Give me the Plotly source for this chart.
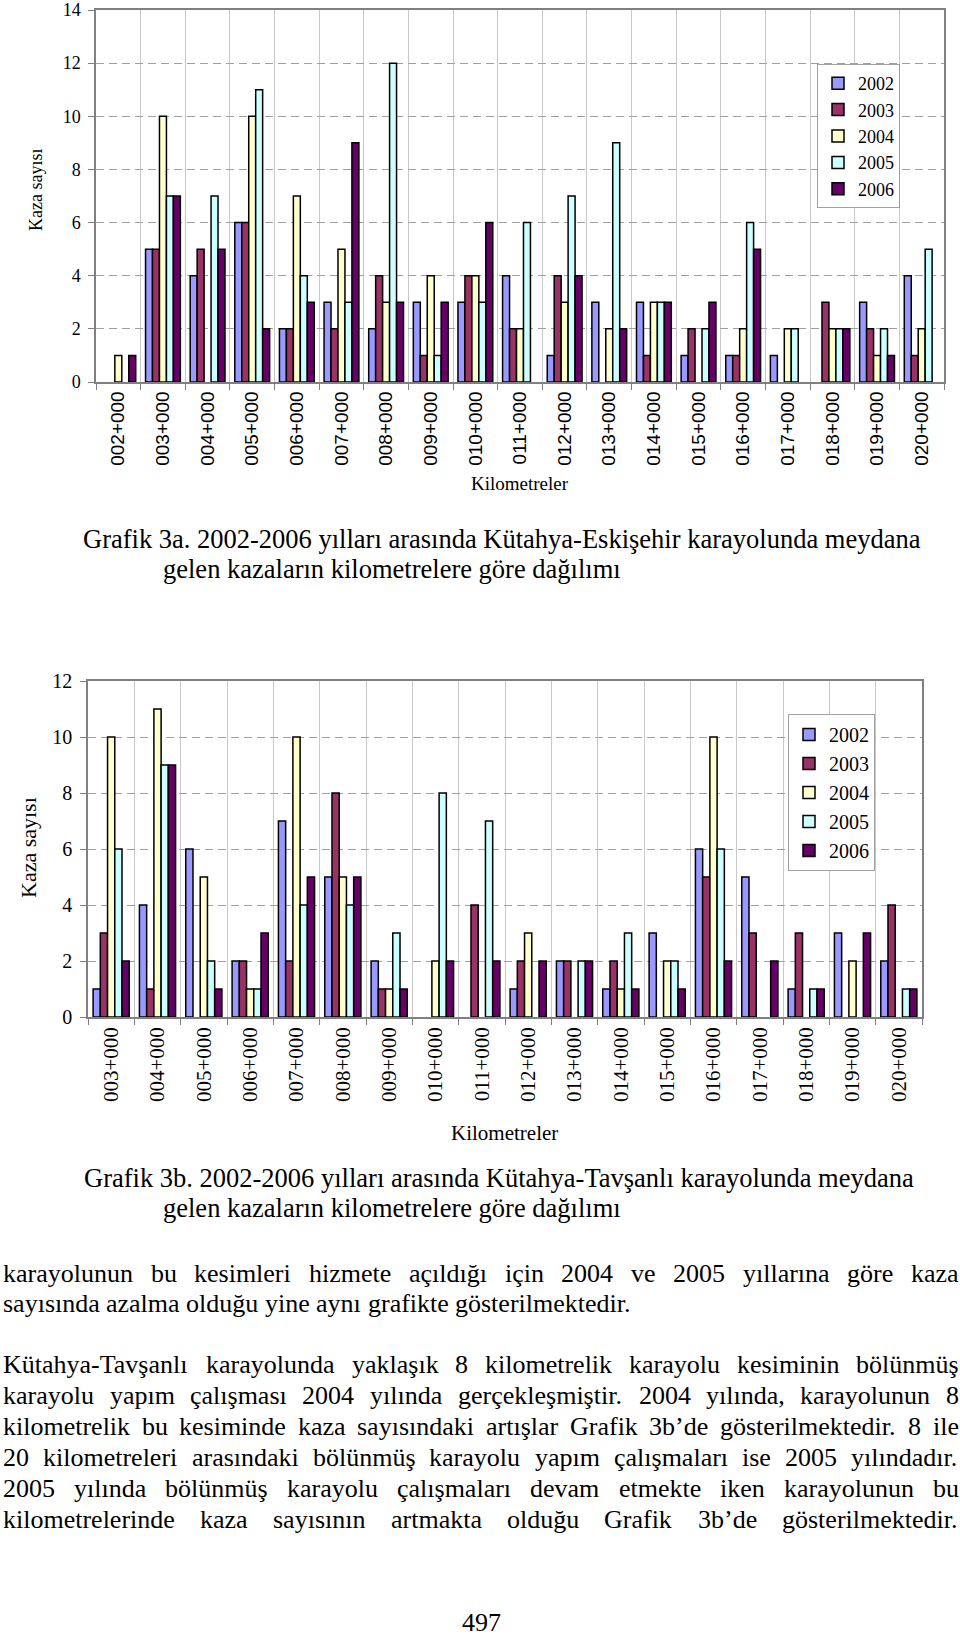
import plotly.graph_objects as go

W, H = 960, 1639

years = ["2002", "2003", "2004", "2005", "2006"]
colors = ["#9999FF", "#993366", "#FFFFCC", "#CCFFFF", "#660066"]

# ---- Grafik 3a: Kütahya-Eskişehir ----
km_a = ["002+000", "003+000", "004+000", "005+000", "006+000", "007+000", "008+000",
        "009+000", "010+000", "011+000", "012+000", "013+000", "014+000", "015+000",
        "016+000", "017+000", "018+000", "019+000", "020+000"]
a_2002 = [0, 5, 4, 6, 2, 3, 2, 3, 3, 4, 1, 3, 3, 1, 1, 1, 0, 3, 4]
a_2003 = [0, 5, 5, 6, 2, 2, 4, 1, 4, 2, 4, 0, 1, 2, 1, 0, 3, 2, 1]
a_2004 = [1, 10, 0, 10, 7, 5, 3, 4, 4, 2, 3, 2, 3, 0, 2, 2, 2, 1, 2]
a_2005 = [0, 7, 7, 11, 4, 3, 12, 1, 3, 6, 7, 9, 3, 2, 6, 2, 2, 2, 5]
a_2006 = [1, 7, 5, 2, 3, 9, 3, 3, 6, 0, 4, 2, 3, 3, 5, 0, 2, 1, 0]

# ---- Grafik 3b: Kütahya-Tavşanlı ----
km_b = ["003+000", "004+000", "005+000", "006+000", "007+000", "008+000", "009+000",
        "010+000", "011+000", "012+000", "013+000", "014+000", "015+000", "016+000",
        "017+000", "018+000", "019+000", "020+000"]
b_2002 = [1, 4, 6, 2, 7, 5, 2, 0, 0, 1, 2, 1, 3, 6, 5, 1, 3, 2]
b_2003 = [3, 1, 0, 2, 2, 8, 1, 0, 4, 2, 2, 2, 0, 5, 3, 3, 0, 4]
b_2004 = [10, 11, 5, 1, 10, 5, 1, 2, 0, 3, 0, 1, 2, 10, 0, 0, 2, 0]
b_2005 = [6, 9, 2, 1, 4, 4, 3, 8, 7, 0, 2, 3, 2, 6, 0, 1, 0, 1]
b_2006 = [2, 9, 1, 3, 5, 5, 1, 2, 2, 2, 2, 1, 1, 2, 2, 1, 3, 1]

y_ticks_a = [0, 2, 4, 6, 8, 10, 12, 14]
y_ticks_b = [0, 2, 4, 6, 8, 10, 12]

caption_a = ["Grafik 3a. 2002-2006 yılları arasında Kütahya-Eskişehir karayolunda meydana",
             "gelen kazaların kilometrelere göre dağılımı"]
caption_b = ["Grafik 3b. 2002-2006 yılları arasında Kütahya-Tavşanlı karayolunda meydana",
             "gelen kazaların kilometrelere göre dağılımı"]

# (text, justified)
para_1 = [("karayolunun bu kesimleri hizmete açıldığı için 2004 ve 2005 yıllarına göre kaza", True),
          ("sayısında azalma olduğu yine aynı grafikte gösterilmektedir.", False)]
para_2 = [("Kütahya-Tavşanlı karayolunda yaklaşık 8 kilometrelik karayolu kesiminin bölünmüş", True),
          ("karayolu yapım çalışması 2004 yılında gerçekleşmiştir. 2004 yılında, karayolunun 8", True),
          ("kilometrelik bu kesiminde kaza sayısındaki artışlar Grafik 3b’de gösterilmektedir. 8 ile", True),
          ("20 kilometreleri arasındaki bölünmüş karayolu yapım çalışmaları ise 2005 yılındadır.", True),
          ("2005 yılında bölünmüş karayolu çalışmaları devam etmekte iken karayolunun bu", True),
          ("kilometrelerinde kaza sayısının artmakta olduğu Grafik 3b’de gösterilmektedir.", True)]
page_no = "497"

SERIF = "Liberation Serif, Times New Roman, serif"
SANS = "Liberation Sans, Arial, sans-serif"


def px(x):
    return x / W


def py(y):
    return 1 - y / H


fig = go.Figure()

series_a = [a_2002, a_2003, a_2004, a_2005, a_2006]
series_b = [b_2002, b_2003, b_2004, b_2005, b_2006]

for yr, col, vals in zip(years, colors, series_a):
    fig.add_trace(go.Bar(
        x=km_a, y=[v if v else None for v in vals], name=yr,
        marker=dict(color=col, line=dict(color="black", width=1.5)),
        xaxis="x", yaxis="y", legend="legend"))

for yr, col, vals in zip(years, colors, series_b):
    fig.add_trace(go.Bar(
        x=km_b, y=[v if v else None for v in vals], name=yr,
        marker=dict(color=col, line=dict(color="black", width=1.5)),
        xaxis="x2", yaxis="y2", legend="legend2"))

common_x = dict(type="category", tickson="boundaries", showgrid=True, gridcolor="#c8c8c8",
                gridwidth=1, showline=True, linecolor="#808080", linewidth=1.5, mirror=True,
                ticks="outside", ticklen=6, tickcolor="#808080", tickangle=-90,
                automargin=False, fixedrange=True)
common_y = dict(showgrid=True, gridcolor="#a0a0a0", griddash="8px,5px", gridwidth=1,
                showline=True, linecolor="#808080", linewidth=1.5, mirror=True,
                ticks="outside", ticklen=6, tickcolor="#808080", zeroline=False,
                automargin=False, fixedrange=True)

fig.update_layout(
    width=W, height=H,
    margin=dict(l=0, r=0, t=0, b=0, pad=0),
    paper_bgcolor="white", plot_bgcolor="white",
    barmode="group", bargap=0.22, bargroupgap=0,
    xaxis=dict(common_x, domain=[px(96), px(944)], anchor="y",
               tickfont=dict(family=SANS, size=19, color="black")),
    yaxis=dict(common_y, domain=[py(382), py(10)], anchor="x", range=[0, 14],
               tickvals=y_ticks_a, tickfont=dict(family=SERIF, size=18, color="black"),
               ticklabelstandoff=4),
    xaxis2=dict(common_x, domain=[px(88), px(922)], anchor="y2",
                tickfont=dict(family=SERIF, size=21, color="black")),
    yaxis2=dict(common_y, domain=[py(1017), py(681)], anchor="x2", range=[0, 12],
                tickvals=y_ticks_b, tickfont=dict(family=SERIF, size=20, color="black"),
                ticklabelstandoff=4),
    legend=dict(x=px(817), y=py(64), xanchor="left", yanchor="top",
                bgcolor="white", bordercolor="#a0a0a0", borderwidth=1,
                font=dict(family=SERIF, size=18, color="black"), itemwidth=30),
    legend2=dict(x=px(788), y=py(714), xanchor="left", yanchor="top",
                 bgcolor="white", bordercolor="#a0a0a0", borderwidth=1,
                 font=dict(family=SERIF, size=20, color="black"), itemwidth=30),
    showlegend=True,
)

# Times/Liberation Serif advance widths (per 1000 em)
WID = {" ": 250, "+": 564, ",": 250, "-": 333, ".": 250, "’": 333, "'": 180}
for d in "0123456789":
    WID[d] = 500
WID.update(dict(zip("ABCDEFGHIJKLMNOPQRSTUVWXYZ",
                    [722, 667, 667, 722, 611, 556, 722, 722, 333, 389, 722, 611, 889,
                     722, 722, 556, 722, 667, 556, 611, 722, 722, 944, 722, 722, 611])))
WID.update(dict(zip("abcdefghijklmnopqrstuvwxyz",
                    [444, 500, 444, 500, 444, 333, 500, 500, 278, 278, 500, 278, 778,
                     500, 500, 500, 500, 333, 389, 278, 500, 500, 722, 500, 500, 444])))
WID.update({"ç": 444, "ğ": 500, "ı": 278, "ö": 500, "ş": 389, "ü": 500,
            "Ş": 556, "Ü": 722, "Ö": 722, "Ç": 667, "İ": 333})


def text_w(s, size):
    return sum(WID.get(c, 500) for c in s) * size / 1000.0


annots = []


def add_text(text, x, baseline, size, xanchor="left", angle=0, family=SERIF):
    annots.append(dict(text=text, x=px(x), y=py(baseline - 0.34 * size), xref="paper",
                       yref="paper", xanchor=xanchor, yanchor="middle", showarrow=False,
                       borderpad=0, textangle=angle,
                       font=dict(family=family, size=size, color="black")))


def add_line(text, baseline, size, justify, left=2, right=958):
    words = text.split(" ")
    ws = [text_w(w, size) for w in words]
    if justify and len(words) > 1:
        gap = (right - left - sum(ws)) / (len(words) - 1)
    else:
        gap = WID[" "] * size / 1000.0
    x = left
    for w, wd in zip(words, ws):
        add_text(w, x, baseline, size)
        x += wd + gap


# axis titles
annots.append(dict(text="Kaza sayısı", x=px(36), y=py(190), xref="paper", yref="paper",
                   xanchor="center", yanchor="middle", textangle=-90, showarrow=False,
                   font=dict(family=SERIF, size=18, color="black")))
annots.append(dict(text="Kilometreler", x=px(520), y=py(483), xref="paper", yref="paper",
                   xanchor="center", yanchor="middle", showarrow=False,
                   font=dict(family=SERIF, size=19, color="black")))
annots.append(dict(text="Kaza sayısı", x=px(28), y=py(848), xref="paper", yref="paper",
                   xanchor="center", yanchor="middle", textangle=-90, showarrow=False,
                   font=dict(family=SERIF, size=22, color="black")))
annots.append(dict(text="Kilometreler", x=px(505), y=py(1133), xref="paper", yref="paper",
                   xanchor="center", yanchor="middle", showarrow=False,
                   font=dict(family=SERIF, size=21, color="black")))

# captions
CAP = 26.5
add_text(caption_a[0], 82, 548, CAP)
add_text(caption_a[1], 162, 578, CAP)
add_text(caption_b[0], 83, 1187, CAP)
add_text(caption_b[1], 162, 1217, CAP)

# body paragraphs
BODY = 26
for i, (t, j) in enumerate(para_1):
    add_line(t, 1282 + 30 * i, BODY, j)
for i, (t, j) in enumerate(para_2):
    add_line(t, 1373 + 31 * i, BODY, j)

add_text(page_no, 481, 1631, BODY, xanchor="center")

fig.update_layout(annotations=annots)

fig.write_html("out.html",
               config={"displayModeBar": False},
               post_script="document.body.style.margin='0';document.body.style.padding='0';"
                           "document.body.style.overflow='hidden';")
